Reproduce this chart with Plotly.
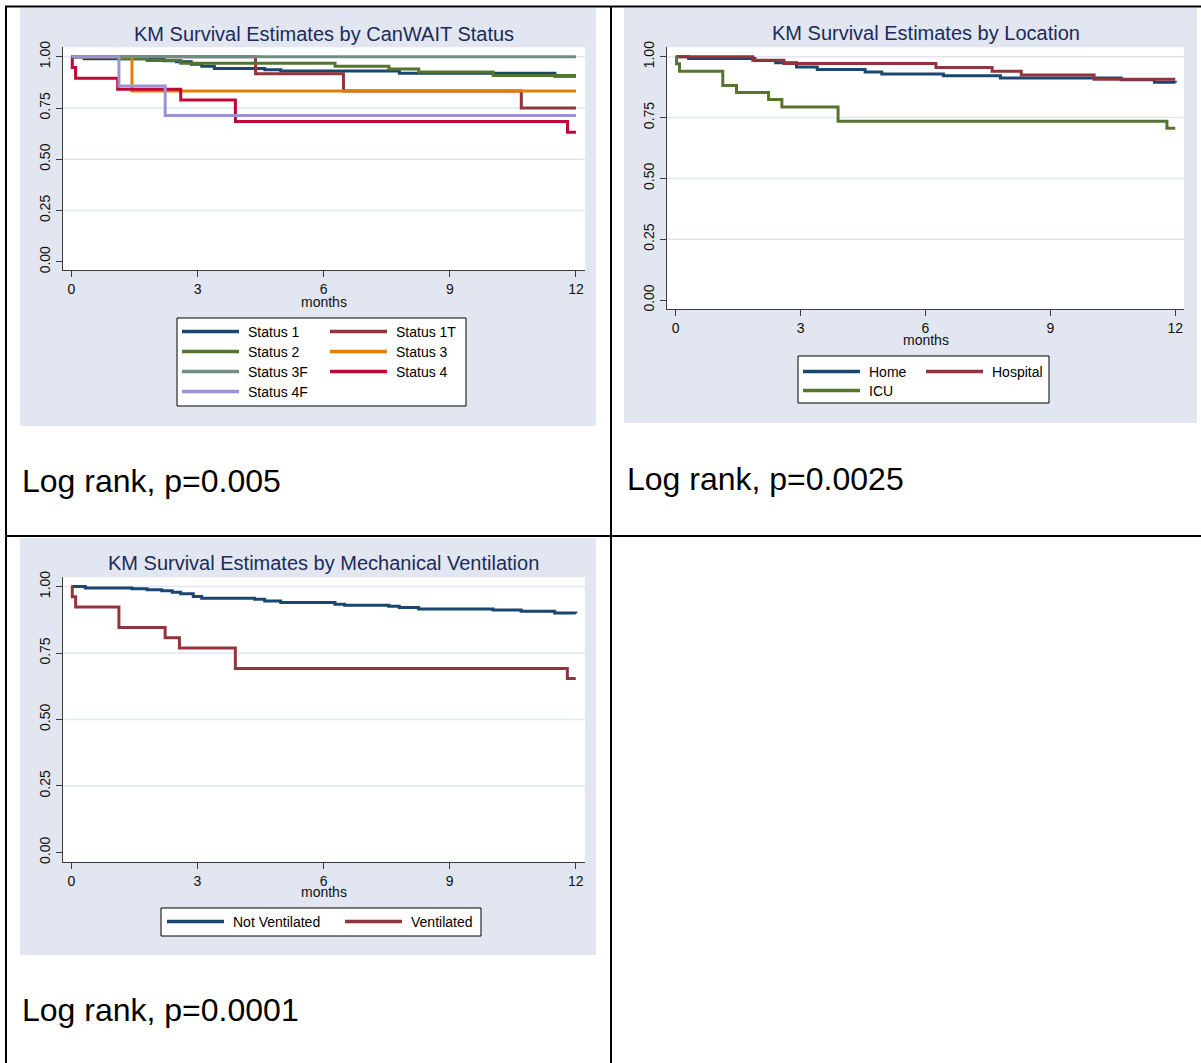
import plotly.graph_objects as go

W, H = 1201, 1063

# ---------------- data ----------------
month_ticks = [0, 3, 6, 9, 12]
surv_ticks = [0, 0.25, 0.5, 0.75, 1.0]
surv_ticktext = ["0.00", "0.25", "0.50", "0.75", "1.00"]
grid_vals = [0.25, 0.5, 0.75, 1.0]

# KM estimates by CanWAIT status (months, survival)
status1_t = [0, 0.3, 1.8, 2.2, 2.5, 2.85, 3.1, 3.4, 4.6, 4.98, 7.8, 11.5, 12]
status1_s = [1.0, 0.99, 0.986, 0.98, 0.975, 0.963, 0.953, 0.943, 0.937, 0.93, 0.919, 0.905, 0.905]
status1t_t = [0, 4.38, 6.47, 10.7, 12]
status1t_s = [1.0, 0.917, 0.833, 0.75, 0.75]
status2_t = [0, 1.17, 1.8, 2.6, 6.27, 7.55, 8.26, 10.03, 12]
status2_s = [1.0, 0.99, 0.982, 0.968, 0.954, 0.94, 0.925, 0.908, 0.908]
status3_t = [0, 1.44, 12]
status3_s = [1.0, 0.833, 0.833]
status3f_t = [0, 12]
status3f_s = [1.0, 1.0]
status4_t = [0, 0.02, 0.1, 1.1, 2.6, 3.9, 11.8, 12]
status4_s = [1.0, 0.947, 0.895, 0.842, 0.789, 0.684, 0.632, 0.632]
status4f_t = [0, 1.13, 2.23, 12]
status4f_s = [1.0, 0.857, 0.714, 0.714]

# KM estimates by location
home_t = [0, 0.31, 1.9, 2.4, 2.9, 3.4, 4.55, 4.95, 6.43, 7.8, 10.7, 11.5, 12]
home_s = [1.0, 0.993, 0.985, 0.975, 0.958, 0.948, 0.937, 0.929, 0.922, 0.913, 0.906, 0.895, 0.893]
hosp_t = [0, 1.85, 2.6, 6.25, 7.6, 8.3, 10.05, 12]
hosp_s = [1.0, 0.986, 0.972, 0.956, 0.941, 0.925, 0.908, 0.908]
icu_t = [0, 0.02, 0.09, 1.13, 1.46, 2.23, 2.55, 3.9, 11.8, 12]
icu_s = [1.0, 0.971, 0.941, 0.882, 0.853, 0.824, 0.794, 0.735, 0.706, 0.706]

# KM estimates by mechanical ventilation
notvent_t = [0, 0.33, 1.44, 1.8, 2.15, 2.4, 2.6, 2.9, 3.1, 4.36, 4.6, 4.98, 6.27, 6.5,
             7.55, 7.8, 8.26, 10.03, 10.7, 11.5, 12]
notvent_s = [1.0, 0.995, 0.992, 0.988, 0.984, 0.979, 0.973, 0.963, 0.956, 0.952, 0.946,
             0.94, 0.934, 0.93, 0.926, 0.921, 0.916, 0.912, 0.907, 0.901, 0.899]
vent_t = [0, 0.02, 0.1, 1.13, 2.23, 2.57, 3.9, 11.8, 12]
vent_s = [1.0, 0.962, 0.923, 0.846, 0.808, 0.769, 0.692, 0.654, 0.654]

titles = ["KM Survival Estimates by CanWAIT Status",
          "KM Survival Estimates by Location",
          "KM Survival Estimates by Mechanical Ventilation"]
logrank = ["Log rank, p=0.005", "Log rank, p=0.0025", "Log rank, p=0.0001"]

# Stata s2color palette
NAVY = "#1a476f"
MAROON = "#90353b"
FOREST = "#55752f"
DKORANGE = "#e37e00"
TEAL = "#6e8e84"
CRANBERRY = "#c10534"
LAVENDER = "#9b92d6"

panel_series = [
    [("Status 1", status1_t, status1_s, NAVY),
     ("Status 1T", status1t_t, status1t_s, MAROON),
     ("Status 2", status2_t, status2_s, FOREST),
     ("Status 3", status3_t, status3_s, DKORANGE),
     ("Status 3F", status3f_t, status3f_s, TEAL),
     ("Status 4", status4_t, status4_s, CRANBERRY),
     ("Status 4F", status4f_t, status4f_s, LAVENDER)],
    [("Home", home_t, home_s, NAVY),
     ("Hospital", hosp_t, hosp_s, MAROON),
     ("ICU", icu_t, icu_s, FOREST)],
    [("Not Ventilated", notvent_t, notvent_s, NAVY),
     ("Ventilated", vent_t, vent_s, MAROON)],
]

# ---------------- layout geometry (pixels) ----------------
BG = "#e1e6f0"
GRID = "#e1e6f0"
AXIS = "#3c3c3c"
TITLE_C = "#1c2b5a"
FONT = "Liberation Sans, Arial, sans-serif"

panels = [
    dict(bg=(20, 8, 596, 426), plot=(62.8, 47.3, 585.2, 270.0),
         xr=[-0.205, 12.22], yr=[-0.040, 1.046],
         title_y=34, months_y=302,
         legend=dict(box=(177, 318, 466, 406), rows=[331.5, 351.5, 371.5, 391.5],
                     cols=[182, 330], ncol=2),
         lr=(20, 481)),
    dict(bg=(624, 8, 1197, 423), plot=(667.0, 47.3, 1184.0, 309.3),
         xr=[-0.21, 12.21], yr=[-0.038, 1.039],
         title_y=33, months_y=340,
         legend=dict(box=(798, 356, 1049, 403), rows=[371.5, 390.5],
                     cols=[803, 926], ncol=2),
         lr=(625, 479)),
    dict(bg=(20, 538, 596, 955), plot=(62.8, 577.3, 585.0, 861.7),
         xr=[-0.205, 12.22], yr=[-0.035, 1.035],
         title_y=563, months_y=892,
         legend=dict(box=(161, 908, 481, 936), rows=[921.5],
                     cols=[167, 345], ncol=2),
         lr=(20, 1010)),
]


def fx(x):
    return x / W


def fy(y):
    return 1 - y / H


fig = go.Figure()
shapes = []
annotations = []
LINE_LEN = 57

for i, (p, series) in enumerate(zip(panels, panel_series)):
    n = "" if i == 0 else str(i + 1)
    xa, ya = "x" + n, "y" + n
    x0, y0, x1, y1 = p["plot"]

    # panel background and white plot region
    bx0, by0, bx1, by1 = p["bg"]
    shapes.append(dict(type="rect", xref="paper", yref="paper", layer="below",
                       x0=fx(bx0), x1=fx(bx1), y0=fy(by1), y1=fy(by0),
                       fillcolor=BG, line=dict(width=0)))
    shapes.append(dict(type="rect", xref="paper", yref="paper", layer="below",
                       x0=fx(x0), x1=fx(x1), y0=fy(y1), y1=fy(y0),
                       fillcolor="white", line=dict(width=0)))
    # horizontal grid (none on the zero line)
    for g in grid_vals:
        shapes.append(dict(type="line", xref=xa + " domain", yref=ya, layer="below",
                           x0=0, x1=1, y0=g, y1=g,
                           line=dict(color=GRID, width=1.5)))

    for name, t, s, color in series:
        fig.add_trace(go.Scatter(x=t, y=s, mode="lines", name=name,
                                 line=dict(color=color, width=3, shape="hv"),
                                 xaxis=xa, yaxis=ya, showlegend=False))

    axis_common = dict(showline=True, linecolor=AXIS, linewidth=1,
                       ticks="outside", ticklen=6, tickcolor=AXIS, tickwidth=1,
                       tickfont=dict(family=FONT, size=14, color="#111111"),
                       zeroline=False, fixedrange=True, automargin=False,
                       showgrid=False)
    fig.update_layout(**{
        "xaxis" + n: dict(domain=[fx(x0), fx(x1)], range=p["xr"],
                          tickvals=month_ticks, anchor=ya, **axis_common),
        "yaxis" + n: dict(domain=[fy(y1), fy(y0)], range=p["yr"],
                          tickvals=surv_ticks, ticktext=surv_ticktext,
                          tickangle=-90, anchor=xa, **axis_common),
    })

    # titles and axis label
    cx = (x0 + x1) / 2
    annotations.append(dict(text=titles[i], x=fx(cx), y=fy(p["title_y"]),
                            xref="paper", yref="paper", showarrow=False,
                            xanchor="center", yanchor="middle",
                            font=dict(family=FONT, size=20, color=TITLE_C)))
    annotations.append(dict(text="months", x=fx(cx), y=fy(p["months_y"]),
                            xref="paper", yref="paper", showarrow=False,
                            xanchor="center", yanchor="middle",
                            font=dict(family=FONT, size=14, color="#111111")))

    # legend box
    lg = p["legend"]
    lx0, ly0, lx1, ly1 = lg["box"]
    shapes.append(dict(type="rect", xref="paper", yref="paper", layer="above",
                       x0=fx(lx0), x1=fx(lx1), y0=fy(ly1), y1=fy(ly0),
                       fillcolor="white", line=dict(color="#000000", width=1)))
    for k, (name, t, s, color) in enumerate(series):
        r, c = divmod(k, lg["ncol"])
        yy = lg["rows"][r]
        xs = lg["cols"][c]
        shapes.append(dict(type="line", xref="paper", yref="paper", layer="above",
                           x0=fx(xs), x1=fx(xs + LINE_LEN), y0=fy(yy), y1=fy(yy),
                           line=dict(color=color, width=3.5)))
        annotations.append(dict(text=name, x=fx(xs + LINE_LEN + 7), y=fy(yy),
                                xref="paper", yref="paper", showarrow=False,
                                xanchor="left", yanchor="middle",
                                font=dict(family=FONT, size=14, color="#000000")))

    # log-rank result below the graph
    lx, ly = p["lr"]
    annotations.append(dict(text=logrank[i], x=fx(lx), y=fy(ly),
                            xref="paper", yref="paper", showarrow=False,
                            xanchor="left", yanchor="middle",
                            font=dict(family=FONT, size=32, color="#000000")))

# table rules
for (ax0, ay0, ax1, ay1) in [(5, 6.5, W, 6.5), (6, 6, 6, H), (611, 6, 611, H),
                            (5, 536, W, 536)]:
    shapes.append(dict(type="line", xref="paper", yref="paper", layer="above",
                       x0=fx(ax0), x1=fx(ax1), y0=fy(ay0), y1=fy(ay1),
                       line=dict(color="#000000", width=2)))

fig.update_layout(width=W, height=H, autosize=False,
                  margin=dict(l=0, r=0, t=0, b=0, pad=0, autoexpand=False),
                  paper_bgcolor="white", plot_bgcolor="rgba(0,0,0,0)",
                  shapes=shapes, annotations=annotations, showlegend=False)

fig.write_html("out.html")
